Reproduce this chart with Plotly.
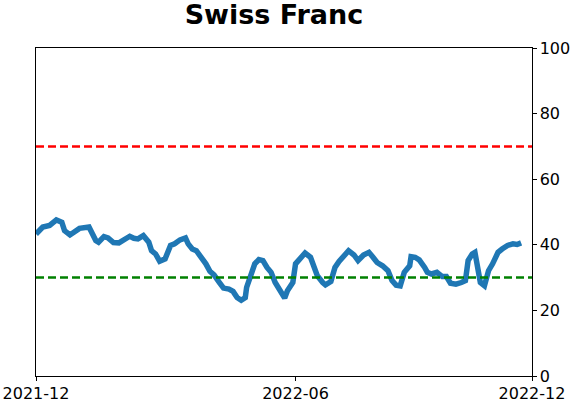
import pandas as pd
import plotly.graph_objects as go

# Day offsets from 2021-12-01 and indicator values
day_offsets = [0, 5, 10, 15, 19, 21, 25, 29, 32, 39, 41, 44, 46, 50, 53, 57, 61, 66, 69, 72, 75,
               79, 83, 85, 88, 91, 95, 99, 102, 106, 110, 112, 115, 118, 122, 125, 128, 131, 135,
               138, 142, 145, 148, 151, 154, 155, 158, 161, 164, 167, 170, 173, 176, 180, 183,
               185, 189, 191, 195, 198, 202, 205, 207, 211, 213, 217, 220, 223, 227, 230, 234,
               237, 241, 245, 248, 251, 255, 259, 262, 265, 268, 271, 275, 276, 279, 282, 286,
               288, 291, 295, 299, 302, 305, 309, 313, 316, 318, 321, 323, 325, 327, 330, 333,
               336, 340, 343, 347, 351, 354, 357]
values = [43.3, 45.4, 45.9, 47.6, 46.9, 44.3, 43.0, 44.1, 45.0, 45.4, 43.8, 41.3, 40.8, 42.5, 42.1,
          40.7, 40.6, 42.0, 42.6, 42.0, 41.8, 42.8, 40.8, 38.2, 37.2, 35.0, 35.7, 39.8, 40.3, 41.5,
          42.1, 40.3, 38.7, 38.2, 36.2, 34.2, 31.9, 30.8, 28.5, 26.8, 26.5, 25.8, 23.9, 23.1, 23.9,
          27.0, 30.6, 34.2, 35.5, 35.2, 33.1, 31.6, 28.5, 26.0, 23.8, 26.0, 28.5, 34.2, 36.0, 37.5,
          36.2, 33.1, 30.6, 28.5, 27.8, 28.8, 33.1, 34.9, 37.0, 38.2, 36.9, 35.2, 36.9, 37.7, 36.2,
          34.6, 33.6, 32.1, 29.1, 27.7, 27.5, 31.6, 33.6, 36.4, 36.2, 35.4, 33.1, 31.6, 31.1, 31.6,
          30.3, 30.3, 28.3, 28.0, 28.5, 29.1, 35.2, 37.2, 37.7, 33.1, 28.5, 27.5, 32.1, 34.2, 37.7,
          38.7, 39.8, 40.3, 40.1, 40.6]

start_date = "2021-12-01"
end_date = "2022-12-01"
tick_dates = ["2021-12-01", "2022-06-10", "2022-12-01"]
tick_labels = ["2021-12", "2022-06", "2022-12"]
y_ticks = [0, 20, 40, 60, 80, 100]
upper_level = 70
lower_level = 30
title = "Swiss Franc"

dates = pd.Timestamp(start_date) + pd.to_timedelta(day_offsets, unit="D")

fig = go.Figure()
fig.add_trace(go.Scatter(x=dates, y=values, mode="lines",
                         line=dict(color="#1f77b4", width=5.5), showlegend=False))

for lvl, col in [(upper_level, "#ff0000"), (lower_level, "#008000")]:
    fig.add_shape(type="line", xref="paper", x0=0, x1=1, yref="y", y0=lvl, y1=lvl,
                  line=dict(color=col, width=2.5, dash="8px,4px"))

fig.update_layout(
    width=572, height=402,
    margin=dict(l=36, r=40, t=48, b=26, autoexpand=False),
    paper_bgcolor="white", plot_bgcolor="white",
    font=dict(family="DejaVu Sans", size=16, color="black"),
    title=dict(text="<b>" + title + "</b>", x=0.479, xanchor="center", xref="container",
               y=0.963, yanchor="middle", yref="container",
               font=dict(size=27, family="DejaVu Sans")),
)
fig.update_xaxes(range=[start_date, end_date], tickvals=tick_dates, ticktext=tick_labels,
                 showgrid=False, showline=True, linecolor="black", linewidth=1, mirror=True,
                 ticks="outside", ticklen=3.5, tickcolor="black", zeroline=False, automargin=False,
                 ticklabelstandoff=-1)
fig.update_yaxes(range=[0, 100], tickvals=y_ticks, side="right",
                 showgrid=False, showline=True, linecolor="black", linewidth=1, mirror=True,
                 ticks="outside", ticklen=3.5, tickcolor="black", zeroline=False, automargin=False)

fig.write_html("out.html")
